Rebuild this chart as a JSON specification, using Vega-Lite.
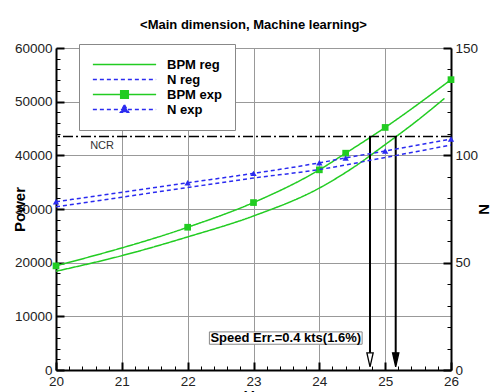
{
  "$schema": "https://vega.github.io/schema/vega-lite/v6.json",
  "width": 395,
  "height": 322,
  "autosize": "none",
  "padding": {"left": 56, "top": 48, "right": 46, "bottom": 22},
  "background": "white",
  "title": {"text": "<Main dimension, Machine learning>", "fontSize": 13, "fontWeight": "bold", "font": "Liberation Sans", "offset": 9, "anchor": "middle", "color": "black"},
  "config": {
    "font": "Liberation Sans",
    "view": {"stroke": "#999"},
    "axis": {"domainColor": "black", "domainWidth": 2, "tickColor": "black", "gridColor": "#999", "gridWidth": 1, "labelFontSize": 13.5, "labelColor": "#222", "labelFont": "Liberation Sans", "titleFont": "Liberation Sans", "titleFontWeight": "bold", "titleColor": "black", "labelOverlap": false, "labelFlush": false}
  },
  "datasets": {
    "curves": [
      {"series": "BPM reg", "Vs": 20, "value": 18400},
      {"series": "BPM reg", "Vs": 21, "value": 21300},
      {"series": "BPM reg", "Vs": 22, "value": 24800},
      {"series": "BPM reg", "Vs": 23, "value": 28700},
      {"series": "BPM reg", "Vs": 24, "value": 33900},
      {"series": "BPM reg", "Vs": 24.5, "value": 37600},
      {"series": "BPM reg", "Vs": 25, "value": 42000},
      {"series": "BPM reg", "Vs": 25.5, "value": 46600},
      {"series": "BPM reg", "Vs": 25.9, "value": 50600},
      {"series": "BPM exp", "Vs": 20, "value": 19400},
      {"series": "BPM exp", "Vs": 22, "value": 26600},
      {"series": "BPM exp", "Vs": 23, "value": 31200},
      {"series": "BPM exp", "Vs": 24, "value": 37300},
      {"series": "BPM exp", "Vs": 24.4, "value": 40400},
      {"series": "BPM exp", "Vs": 25, "value": 45200},
      {"series": "BPM exp", "Vs": 26, "value": 54100},
      {"series": "N reg", "Vs": 20, "value": 76},
      {"series": "N reg", "Vs": 21, "value": 80.5},
      {"series": "N reg", "Vs": 22, "value": 85},
      {"series": "N reg", "Vs": 23, "value": 89.4},
      {"series": "N reg", "Vs": 24, "value": 93.4},
      {"series": "N reg", "Vs": 25, "value": 99},
      {"series": "N reg", "Vs": 26, "value": 104.8},
      {"series": "N exp", "Vs": 20, "value": 78.4},
      {"series": "N exp", "Vs": 22, "value": 87.2},
      {"series": "N exp", "Vs": 23, "value": 91.6},
      {"series": "N exp", "Vs": 24, "value": 96.5},
      {"series": "N exp", "Vs": 24.4, "value": 98.8},
      {"series": "N exp", "Vs": 25, "value": 102},
      {"series": "N exp", "Vs": 26, "value": 107.6}
    ],
    "ncr": [{"label": "NCR", "value": 43500}],
    "arrows": [{"kind": "exp", "Vs": 24.77}, {"kind": "reg", "Vs": 25.16}],
    "note": [{"text": "Speed Err.=0.4 kts(1.6%)"}]
  },
  "layer": [
    {
      "data": {"name": "curves"},
      "transform": [{"filter": "datum.series === 'BPM reg' || datum.series === 'BPM exp'"}],
      "mark": {"type": "point", "opacity": 0},
      "encoding": {
        "x": {"field": "Vs", "type": "quantitative", "scale": {"domain": [20, 26], "nice": false, "zero": false},
          "axis": {"orient": "bottom", "title": null, "labels": false, "grid": false, "domain": false, "tickSize": -4, "tickWidth": 1,
            "values": [20.2,20.4,20.6,20.8,21.2,21.4,21.6,21.8,22.2,22.4,22.6,22.8,23.2,23.4,23.6,23.8,24.2,24.4,24.6,24.8,25.2,25.4,25.6,25.8]}},
        "y": {"field": "value", "type": "quantitative", "scale": {"domain": [0, 60000], "nice": false},
          "axis": {"orient": "left", "title": null, "labels": false, "grid": false, "domain": false, "tickSize": -4, "tickWidth": 1,
            "values": [2000,4000,6000,8000,12000,14000,16000,18000,22000,24000,26000,28000,32000,34000,36000,38000,42000,44000,46000,48000,52000,54000,56000,58000]}}
      }
    },
    {
      "data": {"name": "curves"},
      "transform": [{"filter": "datum.series === 'N reg' || datum.series === 'N exp'"}],
      "mark": {"type": "point", "opacity": 0},
      "encoding": {
        "x": {"field": "Vs", "type": "quantitative", "scale": {"domain": [20, 26], "nice": false, "zero": false}, "axis": null},
        "y": {"field": "value", "type": "quantitative", "scale": {"domain": [0, 150], "nice": false},
          "axis": {"orient": "right", "title": null, "labels": false, "grid": false, "domain": false, "tickSize": -4, "tickWidth": 1,
            "values": [10,20,30,40,60,70,80,90,110,120,130,140]}}
      }
    },
    {
      "layer": [
        {
          "data": {"name": "curves"},
          "transform": [{"filter": "datum.series === 'BPM reg' || datum.series === 'BPM exp'"}],
          "mark": {"type": "line", "interpolate": "monotone", "strokeWidth": 1.5},
          "encoding": {
            "x": {"field": "Vs", "type": "quantitative", "scale": {"domain": [20, 26], "nice": false, "zero": false},
              "axis": {"orient": "bottom", "title": "Vs", "titleFontSize": 15, "titleX": 197, "titleY": 18, "titleBaseline": "top", "titleAlign": "center",
                "values": [20, 21, 22, 23, 24, 25, 26], "format": "d",
                "labelPadding": 12, "tickSize": -8, "tickWidth": 2, "grid": true}},
            "y": {"field": "value", "type": "quantitative", "scale": {"domain": [0, 60000], "nice": false},
              "axis": {"orient": "left", "title": "Power", "titleFontSize": 15, "titleX": -37, "titleY": 161, "titleAngle": -90, "titleAlign": "center", "titleBaseline": "middle",
                "values": [0, 10000, 20000, 30000, 40000, 50000, 60000], "format": "d",
                "labelPadding": 12, "tickSize": -8, "tickWidth": 2, "grid": true}},
            "color": {"field": "series", "type": "nominal",
              "scale": {"domain": ["BPM reg", "N reg", "BPM exp", "N exp"], "range": ["#22cc22", "#2b2bf0", "#22cc22", "#2b2bf0"]},
              "legend": {"title": null, "orient": "none", "legendX": 23, "legendY": -4, "padding": 13, "fillColor": "white", "strokeColor": "#888",
                "symbolSize": 4000, "clipHeight": 15, "rowPadding": 0, "labelFontSize": 13, "labelFontWeight": "bold", "labelColor": "black", "labelOffset": 10, "symbolStrokeWidth": 1.5,
                "encode": {"symbols": {"update": {
                  "shape": {"signal": "datum.value === 'BPM exp' ? 'M-1,0H1M-0.12,-0.12H0.12V0.12H-0.12Z' : datum.value === 'N exp' ? 'M-1,0H1M0,-0.15L0.13,0.09H-0.13Z' : 'stroke'"},
                  "fill": {"signal": "datum.value === 'BPM exp' ? '#22cc22' : datum.value === 'N exp' ? '#2b2bf0' : 'transparent'"}}}}}},
            "strokeDash": {"field": "series", "type": "nominal",
              "scale": {"domain": ["BPM reg", "N reg", "BPM exp", "N exp"], "range": [[1, 0], [4, 3], [1, 0], [4, 3]]},
              "legend": {"title": null, "orient": "none", "legendX": 23, "legendY": -4}}
          }
        },
        {
          "data": {"name": "curves"},
          "transform": [{"filter": "datum.series === 'BPM exp'"}],
          "mark": {"type": "point", "shape": "square", "filled": true, "size": 45, "color": "#22cc22", "opacity": 1},
          "encoding": {
            "x": {"field": "Vs", "type": "quantitative"},
            "y": {"field": "value", "type": "quantitative"}
          }
        },
        {
          "data": {"name": "ncr"},
          "mark": {"type": "rule", "color": "black", "strokeWidth": 1.5, "strokeDash": [10, 3, 2, 3]},
          "encoding": {
            "y": {"field": "value", "type": "quantitative"}
          }
        },
        {
          "data": {"name": "ncr"},
          "mark": {"type": "text", "fontSize": 11, "color": "#333", "dy": 9, "align": "center"},
          "encoding": {
            "x": {"datum": 20.7, "type": "quantitative"},
            "y": {"field": "value", "type": "quantitative"},
            "text": {"field": "label"}
          }
        },
        {
          "data": {"name": "arrows"},
          "mark": {"type": "rule", "color": "black", "strokeWidth": 2},
          "encoding": {
            "x": {"field": "Vs", "type": "quantitative"},
            "y": {"datum": 43500, "type": "quantitative"},
            "y2": {"datum": 2500}
          }
        },
        {
          "data": {"name": "arrows"},
          "mark": {"type": "point", "shape": "M-0.45,-1L0.45,-1L0,1Z", "size": 196, "filled": true, "stroke": "black", "strokeWidth": 1.3, "opacity": 1},
          "encoding": {
            "x": {"field": "Vs", "type": "quantitative"},
            "y": {"datum": 1900, "type": "quantitative"},
            "fill": {"condition": {"test": "datum.kind === 'exp'", "value": "white"}, "value": "black"}
          }
        },
        {
          "data": {"name": "note"},
          "mark": {"type": "rect", "fill": "white", "stroke": "#888", "strokeWidth": 1},
          "encoding": {
            "x": {"datum": 22.33, "type": "quantitative"},
            "x2": {"datum": 24.65},
            "y": {"datum": 4800, "type": "quantitative"},
            "y2": {"datum": 7100}
          }
        },
        {
          "data": {"name": "note"},
          "mark": {"type": "text", "fontSize": 13, "fontWeight": "bold", "color": "black", "align": "center", "baseline": "middle"},
          "encoding": {
            "x": {"datum": 23.49, "type": "quantitative"},
            "y": {"datum": 5950, "type": "quantitative"},
            "text": {"field": "text"}
          }
        }
      ]
    },
    {
      "layer": [
        {
          "data": {"name": "curves"},
          "transform": [{"filter": "datum.series === 'N reg' || datum.series === 'N exp'"}],
          "mark": {"type": "line", "interpolate": "monotone", "strokeWidth": 1.5},
          "encoding": {
            "x": {"field": "Vs", "type": "quantitative", "scale": {"domain": [20, 26], "nice": false, "zero": false}, "axis": null},
            "y": {"field": "value", "type": "quantitative", "scale": {"domain": [0, 150], "nice": false},
              "axis": {"orient": "right", "title": "N", "titleFontSize": 15, "titleX": 32, "titleY": 161, "titleAlign": "center", "titleBaseline": "middle", "grid": false,
                "values": [0, 50, 100, 150], "format": "d",
                "labelPadding": 12, "tickSize": -8, "tickWidth": 2}},
            "color": {"field": "series", "type": "nominal"},
            "strokeDash": {"field": "series", "type": "nominal"}
          }
        },
        {
          "data": {"name": "curves"},
          "transform": [{"filter": "datum.series === 'N exp'"}],
          "mark": {"type": "point", "shape": "triangle-up", "filled": true, "size": 40, "color": "#2b2bf0", "opacity": 1},
          "encoding": {
            "x": {"field": "Vs", "type": "quantitative"},
            "y": {"field": "value", "type": "quantitative"}
          }
        }
      ]
    }
  ],
  "resolve": {"scale": {"x": "independent", "y": "independent"}}
}
